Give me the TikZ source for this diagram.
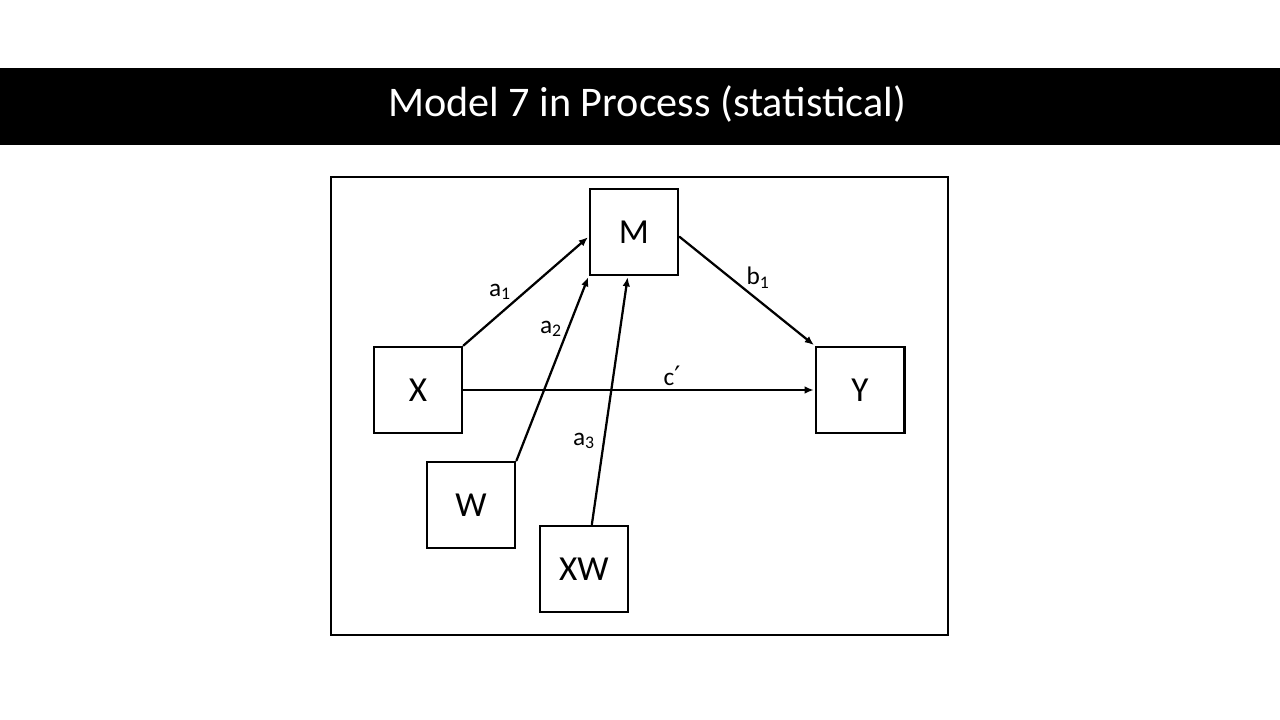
\documentclass[tikz,border=0pt]{standalone}
\usepackage{fontspec}
\setmainfont{Carlito}
\newfontfamily\symfont{DejaVu Sans}
\usepackage{tikz}
\usetikzlibrary{arrows.meta}
\tikzset{
  md diagram/.style={x=0.025cm, y=-0.025cm, font=\fontsize{25}{28}\selectfont,
    line cap=round, line join=miter},
  md var/.style={draw=black, fill=white, line width=2.1pt, minimum width=2.2cm,
    minimum height=2.15cm, inner sep=0pt},
  md path/.style={-{Latex[length=2.3mm,width=1.9mm]}, draw=black, line width=1.6pt,
    shorten >=0.5pt},
  md coef/.style={font=\fontsize{18}{20}\selectfont, inner sep=1pt}
}
\begin{document}
\begin{tikzpicture}[md diagram]
\useasboundingbox[fill=white] (0,0) rectangle (1280,720);
% title bar
\fill[black] (0,68) rectangle (1280,145);
\node[text=white, font=\fontsize{30}{34}\selectfont] (title) at (647,104) {Model 7 in Process (statistical)};
% frame
\draw[line width=1.7pt] (331,177) rectangle (948,635);
% variables
\node[md var] (M) at (634,232) {M};
\node[md var] (X) at (418,390) {X};
\node[md var] (Y) at (860,390) {Y};
\node[md var] (W) at (471,505) {W};
\node[md var] (XW) at (584,569) {XW};
% paths
\draw[md path] (X.north east) -- (M.186);
\draw[md path] (W.north east) -- (M.south west);
\draw[md path] (XW.80) -- (M.-98);
\draw[md path] (M.354) -- (Y.north west);
\draw[md path] (X.east) -- (Y.west);
% coefficients
\node[md coef] (a1) at (500,292) {a\textsubscript{1}};
\node[md coef] (a2) at (551,329) {a\textsubscript{2}};
\node[md coef] (a3) at (584,441) {a\textsubscript{3}};
\node[md coef] (b1) at (758,278) {b\textsubscript{1}};
\node[md coef] (cp) at (672,376) {c{\symfont\fontsize{19}{20}\selectfont ′}};
\end{tikzpicture}
\end{document}
